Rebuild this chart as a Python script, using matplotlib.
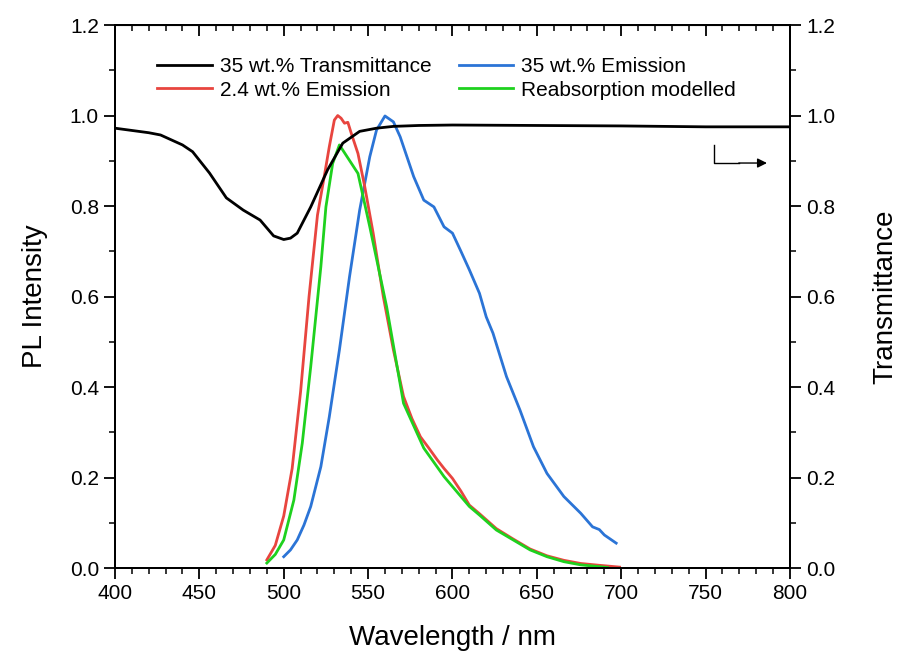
import numpy as np
import matplotlib.pyplot as plt
from matplotlib.ticker import MultipleLocator

plt.rcParams['font.family'] = ['Liberation Sans', 'DejaVu Sans']

# 35 wt.% transmittance (right axis)
wl_t = [400, 410, 420, 427, 440, 446, 456, 466, 476, 486, 494, 500, 504, 508, 516,
        526, 535, 545, 555, 565, 580, 600, 650, 700, 750, 800]
trans = [0.972, 0.967, 0.962, 0.957, 0.935, 0.920, 0.873, 0.818, 0.791, 0.769, 0.734,
         0.726, 0.729, 0.740, 0.798, 0.880, 0.939, 0.965, 0.972, 0.976, 0.978, 0.979,
         0.978, 0.977, 0.975, 0.975]

# 2.4 wt.% emission
wl_r = [490, 495, 500, 505, 510, 515, 520, 524, 527, 530, 532, 534, 536, 538, 540, 544,
        548, 553, 559, 565, 571, 576, 581, 586, 591, 595, 600, 605, 610, 616, 626,
        636, 646, 656, 666, 676, 687, 699]
em_r = [0.018, 0.05, 0.115, 0.22, 0.39, 0.6, 0.78, 0.865, 0.931, 0.99, 1.0, 0.994,
        0.983, 0.985, 0.961, 0.916, 0.843, 0.74, 0.6, 0.482, 0.379, 0.33, 0.29,
        0.265, 0.239, 0.22, 0.198, 0.17, 0.139, 0.12, 0.087, 0.064, 0.042, 0.027,
        0.017, 0.01, 0.006, 0.002]

# 35 wt.% emission
wl_b = [500, 504, 508, 512, 516, 522, 527, 533, 539, 545, 551, 555, 560, 565, 569,
        573, 577, 583, 589, 595, 600, 605, 610, 616, 620, 624, 632, 640, 648, 656,
        666, 676, 683, 687, 690, 697]
em_b = [0.025, 0.04, 0.062, 0.095, 0.136, 0.224, 0.334, 0.482, 0.644, 0.791, 0.909,
        0.968, 0.999, 0.986, 0.953, 0.909, 0.865, 0.813, 0.798, 0.754, 0.74, 0.7,
        0.659, 0.607, 0.555, 0.519, 0.423, 0.349, 0.268, 0.209, 0.158, 0.121, 0.091,
        0.085, 0.073, 0.055]

# reabsorption modelled
wl_g = [490, 495, 500, 506, 511, 516, 522, 525, 529, 533, 544, 551, 561, 571, 583,
        595, 610, 616, 626, 636, 646, 656, 666, 676, 687, 692]
em_g = [0.011, 0.03, 0.062, 0.15, 0.276, 0.445, 0.666, 0.798, 0.894, 0.935, 0.872,
        0.754, 0.577, 0.364, 0.265, 0.202, 0.136, 0.117, 0.084, 0.062, 0.04, 0.025,
        0.014, 0.007, 0.003, 0.001]

fig = plt.figure(figsize=(9.01, 6.55), dpi=100)
ax = fig.add_axes([0.1276, 0.1328, 0.7492, 0.829])
ax2 = ax.twinx()

l_b, = ax.plot(wl_b, em_b, color='#2b74d6', lw=2, label='35 wt.% Emission')
l_r, = ax.plot(wl_r, em_r, color='#e8453f', lw=2, label='2.4 wt.% Emission')
l_g, = ax.plot(wl_g, em_g, color='#1ed11e', lw=2, label='Reabsorption modelled')
l_t, = ax2.plot(wl_t, trans, color='black', lw=2, label='35 wt.% Transmittance')

ax.set_xlim(400, 800)
ax.set_ylim(0, 1.2)
ax2.set_ylim(0, 1.2)
ax.xaxis.set_major_locator(MultipleLocator(50))
ax.xaxis.set_minor_locator(MultipleLocator(10))
for a in (ax, ax2):
    a.yaxis.set_major_locator(MultipleLocator(0.2))
    a.yaxis.set_minor_locator(MultipleLocator(0.1))
    a.yaxis.set_major_formatter(plt.FormatStrFormatter('%.1f'))

ax.tick_params(axis='x', which='major', direction='out', length=8, width=1.3,
               labelsize=15, top=False)
ax.tick_params(axis='x', which='minor', direction='out', length=4, width=1.1, top=False)
ax.tick_params(axis='y', which='major', direction='out', length=8, width=1.3, labelsize=15)
ax.tick_params(axis='y', which='minor', direction='out', length=4, width=1.1)
ax2.tick_params(axis='y', which='major', direction='out', length=8, width=1.3, labelsize=15)
ax2.tick_params(axis='y', which='minor', direction='out', length=4, width=1.1)

# inward ticks on top edge
top = ax.secondary_xaxis('top')
top.xaxis.set_major_locator(MultipleLocator(50))
top.xaxis.set_minor_locator(MultipleLocator(10))
top.tick_params(which='major', direction='in', length=8, width=1.3, labeltop=False)
top.tick_params(which='minor', direction='in', length=4, width=1.1)

for a in (ax, ax2):
    for s in a.spines.values():
        s.set_linewidth(1.4)

ax.set_xlabel('Wavelength / nm', fontsize=20, labelpad=16)
ax.set_ylabel('PL Intensity', fontsize=20, labelpad=16)
ax2.set_ylabel('Transmittance', fontsize=20, labelpad=27)

# arrow pointing to right axis
ax2.plot([755, 755, 770], [0.935, 0.895, 0.895], color='black', lw=1)
ax2.annotate('', xy=(788, 0.895), xytext=(768, 0.895),
             arrowprops=dict(arrowstyle='-|>', color='black', lw=1, mutation_scale=14))

ax.legend([l_t, l_r, l_b, l_g],
          ['35 wt.% Transmittance', '2.4 wt.% Emission', '35 wt.% Emission',
           'Reabsorption modelled'],
          ncol=2, frameon=False, fontsize=15, loc='upper left',
          bbox_to_anchor=(0.035, 0.975), handlelength=2.6, handletextpad=0.4,
          columnspacing=1.3, labelspacing=0.2)

fig.savefig('out.png', dpi=100)
